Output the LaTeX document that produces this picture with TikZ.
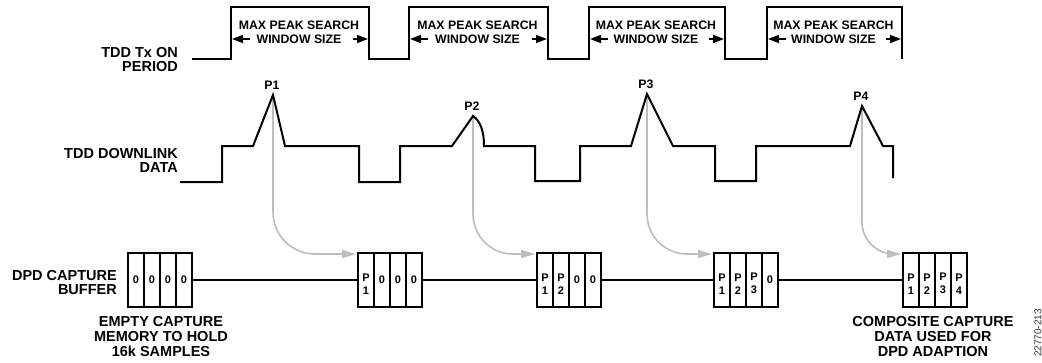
\documentclass[tikz,border=0pt]{standalone}
\usepackage{fontspec}
\setmainfont{Liberation Sans}
\usetikzlibrary{arrows.meta,calc}
\definecolor{arrgray}{RGB}{190,190,190}
\newcommand\capcells[6]{%
  \node[cell] (#1-1) at ({#2+8},280) {#3};
  \node[cell] (#1-2) at ({#2+24},280) {#4};
  \node[cell] (#1-3) at ({#2+40},280) {#5};
  \node[cell] (#1-4) at ({#2+56},280) {#6};
}
\newcommand\pcell[1]{\rule{0pt}{15pt}P\\#1}
\begin{document}
\begin{tikzpicture}[x=1pt,y=-1pt,
  wave/.style={line width=2pt},
  cell/.style={draw, line width=2pt, minimum width=16pt, minimum height=54pt, inner sep=0pt, align=center, font=\bfseries\fontsize{11}{13}\selectfont},
  sidelbl/.style={anchor=east, align=right, inner sep=0pt, font=\bfseries\fontsize{14.5}{14}\selectfont},
  notelbl/.style={anchor=north, align=center, inner sep=0pt, font=\bfseries\fontsize{14.5}{14.7}\selectfont},
  winlbl/.style={align=center, inner sep=0pt, font=\bfseries\fontsize{12.3}{13.3}\selectfont},
  peaklbl/.style={anchor=base, inner sep=0pt, font=\bfseries\fontsize{12.3}{14}\selectfont},
  winarrow/.style={line width=1.6pt, -{Triangle[length=11pt,width=8pt]}},
  grayarrow/.style={draw=arrgray, line width=1.6pt, -{Triangle[length=14pt,width=8pt]}},
  busline/.style={line width=1.6pt},
]
\path[fill=white, use as bounding box] (0,0) rectangle (1042,362);

% peak coordinates
\coordinate (pk1) at (273,95);
\coordinate (pk2) at (473,116);
\coordinate (pk3) at (647,94);
\coordinate (pk4) at (862,106);

% capture buffers
\capcells{a}{128}{0}{0}{0}{0}
\capcells{b}{358}{\pcell{1}}{0}{0}{0}
\capcells{c}{537}{\pcell{1}}{\pcell{2}}{0}{0}
\capcells{d}{714}{\pcell{1}}{\pcell{2}}{\pcell{3}}{0}
\capcells{e}{903}{\pcell{1}}{\pcell{2}}{\pcell{3}}{\pcell{4}}

\draw[busline] (a-4.east) -- (b-1.west);
\draw[busline] (b-4.east) -- (c-1.west);
\draw[busline] (c-4.east) -- (d-1.west);
\draw[busline] (d-4.east) -- (e-1.west);

% gray capture arrows
\draw[grayarrow, rounded corners=42pt] (pk1) |- ($(b-1.north west)+(-1,2)$);
\draw[grayarrow, rounded corners=40pt] (pk2) |- ($(c-1.north west)+(-1,2)$);
\draw[grayarrow, rounded corners=40pt] (pk3) |- ($(d-1.north west)+(-1,2)$);
\draw[grayarrow, rounded corners=32pt] (pk4) |- ($(e-1.north west)+(-1,2)$);

% TDD Tx ON period waveform
\draw[wave] (192,59) -- (231,59) -- (231,7) -- (369,7) -- (369,59) -- (409,59) -- (409,7)
  -- (548,7) -- (548,59) -- (589,59) -- (589,7) -- (725,7) -- (725,59) -- (767,59)
  -- (767,7) -- (902,7) -- (902,59);

\foreach \L/\R/\n in {231/369/1, 409/548/2, 589/725/3, 767/902/4} {
  \node[winlbl] (win\n) at ({(\L+\R)/2-1},32.3) {MAX PEAK SEARCH\\WINDOW SIZE};
  \draw[winarrow] ({\L+19},39) -- ({\L+1},39);
  \draw[winarrow] ({\R-16},39) -- ({\R-1},39);
}

% TDD downlink data waveform
\draw[wave] (180,182) -- (222,182) -- (222,146) -- (253,146) -- (pk1) -- (285,146)
  -- (359,146) -- (359,182) -- (400,182) -- (400,146) -- (452,146) -- (pk2)
  .. controls (480,121) and (484,130) .. (484,146) -- (535,146) -- (535,181)
  -- (580,181) -- (580,146) -- (631,146) -- (pk3) -- (673,146) -- (715,146)
  -- (715,181) -- (756,181) -- (756,146) -- (850,146) -- (pk4) -- (883,146)
  -- (893,146) -- (893,178);

\node[peaklbl] (lp1) at ($(pk1)+(-1,-6)$) {P1};
\node[peaklbl] (lp2) at ($(pk2)+(-1,-6)$) {P2};
\node[peaklbl] (lp3) at ($(pk3)+(-1,-6)$) {P3};
\node[peaklbl] (lp4) at ($(pk4)+(-1,-6)$) {P4};

% side labels
\node[sidelbl] (txlbl) at (178,59.7) {TDD Tx ON\\PERIOD};
\node[sidelbl] (dllbl) at (178,160) {TDD DOWNLINK\\DATA};
\node[sidelbl] (dpdlbl) at (117,283) {DPD CAPTURE\\BUFFER};

% notes under buffers
\node[notelbl] (emptylbl) at ($(a-2.south east)+(0,8.5)$) {EMPTY CAPTURE\\MEMORY TO HOLD\\16k SAMPLES};
\node[notelbl] (complbl) at ($(e-2.south east)+(-3,8.5)$) {COMPOSITE CAPTURE\\DATA USED FOR\\DPD ADAPTION};

\node[rotate=90, inner sep=0pt, text=black!80, font=\fontsize{10}{10}\selectfont] (figid) at (1038,333) {22770-213};
\end{tikzpicture}
\end{document}
